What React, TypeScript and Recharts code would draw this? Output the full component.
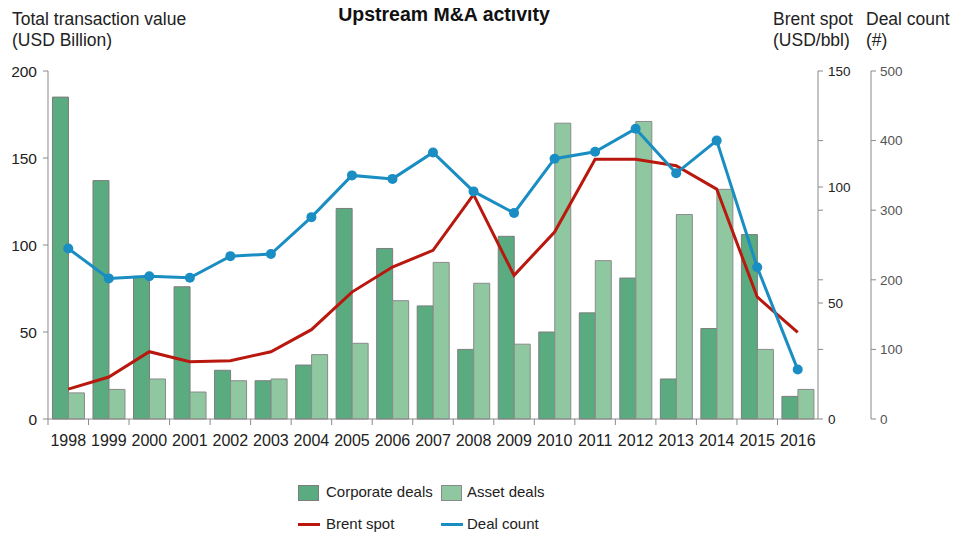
import React from 'react';
import { ComposedChart, Bar, Line, XAxis, YAxis } from 'recharts';

const years = ['1998','1999','2000','2001','2002','2003','2004','2005','2006','2007','2008','2009','2010','2011','2012','2013','2014','2015','2016'];
const corporateDeals = [185, 137, 82, 76, 28, 22, 31, 121, 98, 65, 40, 105, 50, 61, 81, 23, 52, 106, 13];
const assetDeals = [15, 17, 23, 15.5, 22, 23, 37, 43.5, 68, 90, 78, 43, 170, 91, 171, 117.5, 132, 40, 17];
const brentSpot = [12.9, 18.1, 29, 24.7, 25.1, 29, 38.5, 54.7, 65.5, 72.7, 96.7, 61.9, 80.6, 112, 112, 109.2, 99.1, 52.6, 37.3];
const dealCount = [245, 202, 205, 203, 234, 237, 290, 350, 345, 383, 327, 296, 374, 384, 417, 353, 400, 218, 71];

const valueTicks = [0, 50, 100, 150, 200];
const brentTicks = [0, 30, 50, 60, 90, 100, 120, 150];
const brentLabels = [0, 50, 100, 150];
const countTicks = [0, 100, 200, 300, 400, 500];

const data = years.map((y, i) => ({
  year: y,
  corporate: corporateDeals[i],
  asset: assetDeals[i],
  brent: brentSpot[i],
  deals: dealCount[i],
}));

const FONT = '"Liberation Sans", Arial, sans-serif';
const CORP = '#5aab80';
const ASSET = '#8fc8a0';
const RED = '#b8180e';
const BLUE = '#1a8dc2';
const AXIS = '#8a8a8a';

const X_TICK = 6;
const X_MARGIN = 4;

const XTick = (props: any) => {
  const { x, y, payload } = props;
  const off = payload && payload.offset ? payload.offset : 0;
  const ay = y - X_TICK - X_MARGIN;
  return (
    <g>
      <line x1={x - off} x2={x - off} y1={ay} y2={ay + 6} stroke={AXIS} strokeWidth={1} />
      <text x={x} y={ay + 27} textAnchor="middle" fontSize={16} fill="#222" fontFamily={FONT}>
        {payload.value}
      </text>
    </g>
  );
};

const BrentTick = (props: any) => {
  const { x, y, payload } = props;
  if (brentLabels.indexOf(payload.value) < 0) return <g />;
  return (
    <text x={x} y={y} dy="0.355em" textAnchor="start" fontSize={13.5} fill="#222" fontFamily={FONT}>
      {payload.value}
    </text>
  );
};

export default function App() {
  return (
    <div style={{ position: 'relative', margin: -8, width: 960, height: 540, background: '#fff', fontFamily: FONT }}>
      <ComposedChart
        width={960}
        height={540}
        data={data}
        margin={{ top: 71, right: 29, bottom: 91, left: 0 }}
        barCategoryGap="11%"
        barGap={0}
      >
        <XAxis
          dataKey="year"
          xAxisId="x"
          height={30}
          tickLine={false}
          tickSize={X_TICK}
          tickMargin={X_MARGIN}
          stroke={AXIS}
          tick={<XTick />}
          interval={0}
        />
        <YAxis
          yAxisId="value"
          orientation="left"
          width={48}
          domain={[0, 200]}
          ticks={valueTicks}
          stroke={AXIS}
          tickSize={5}
          tickMargin={6}
          tick={{ fontSize: 15.5, fill: '#222', fontFamily: FONT }}
        />
        <YAxis
          yAxisId="brent"
          orientation="right"
          width={53}
          domain={[0, 150]}
          ticks={brentTicks}
          interval={0}
          stroke={AXIS}
          tickSize={5}
          tickMargin={5}
          tick={<BrentTick />}
        />
        <YAxis
          yAxisId="count"
          orientation="right"
          width={60}
          domain={[0, 500]}
          ticks={countTicks}
          stroke={AXIS}
          tickSize={5}
          tickMargin={4}
          tick={{ fontSize: 13.5, fill: '#555', fontFamily: FONT }}
        />
        <Bar xAxisId="x" yAxisId="value" dataKey="corporate" name="Corporate deals" fill={CORP} stroke="#7d7d7d" strokeWidth={1} isAnimationActive={false} />
        <Bar xAxisId="x" yAxisId="value" dataKey="asset" name="Asset deals" fill={ASSET} stroke="#8a8a8a" strokeWidth={1} isAnimationActive={false} />
        <Line xAxisId="x" yAxisId="brent" type="linear" dataKey="brent" name="Brent spot" stroke={RED} strokeWidth={3} dot={false} isAnimationActive={false} />
        <Line xAxisId="x" yAxisId="count" type="linear" dataKey="deals" name="Deal count" stroke={BLUE} strokeWidth={3} dot={{ r: 5, fill: BLUE, stroke: BLUE, strokeWidth: 0 }} isAnimationActive={false} />
      </ComposedChart>

      <div style={{ position: 'absolute', left: 444, top: 3, transform: 'translateX(-50%)', fontSize: 19.5, fontWeight: 'bold', color: '#111', whiteSpace: 'nowrap', lineHeight: '22px' }}>
        Upstream M&amp;A activity
      </div>
      <div style={{ position: 'absolute', left: 12, top: 9, fontSize: 17.5, lineHeight: '21px', color: '#222', whiteSpace: 'nowrap' }}>
        Total transaction value<br />(USD Billion)
      </div>
      <div style={{ position: 'absolute', left: 773, top: 9, fontSize: 17.5, lineHeight: '21px', color: '#222', whiteSpace: 'nowrap' }}>
        Brent spot<br />(USD/bbl)
      </div>
      <div style={{ position: 'absolute', left: 866, top: 9, fontSize: 17.5, lineHeight: '21px', color: '#222', whiteSpace: 'nowrap' }}>
        Deal count<br />(#)
      </div>

      <div style={{ position: 'absolute', left: 298, top: 485, width: 21, height: 16, background: CORP, border: '1px solid #7d7d7d', boxSizing: 'border-box' }} />
      <div style={{ position: 'absolute', left: 326, top: 482, fontSize: 15, lineHeight: '20px', color: '#222', whiteSpace: 'nowrap' }}>Corporate deals</div>
      <div style={{ position: 'absolute', left: 441, top: 485, width: 21, height: 16, background: ASSET, border: '1px solid #8a8a8a', boxSizing: 'border-box' }} />
      <div style={{ position: 'absolute', left: 467, top: 482, fontSize: 15, lineHeight: '20px', color: '#222', whiteSpace: 'nowrap' }}>Asset deals</div>

      <div style={{ position: 'absolute', left: 298, top: 523, width: 22, height: 3, background: RED }} />
      <div style={{ position: 'absolute', left: 326, top: 514, fontSize: 15, lineHeight: '20px', color: '#222', whiteSpace: 'nowrap' }}>Brent spot</div>
      <div style={{ position: 'absolute', left: 441, top: 523, width: 22, height: 3, background: BLUE }} />
      <div style={{ position: 'absolute', left: 467, top: 514, fontSize: 15, lineHeight: '20px', color: '#222', whiteSpace: 'nowrap' }}>Deal count</div>
    </div>
  );
}
